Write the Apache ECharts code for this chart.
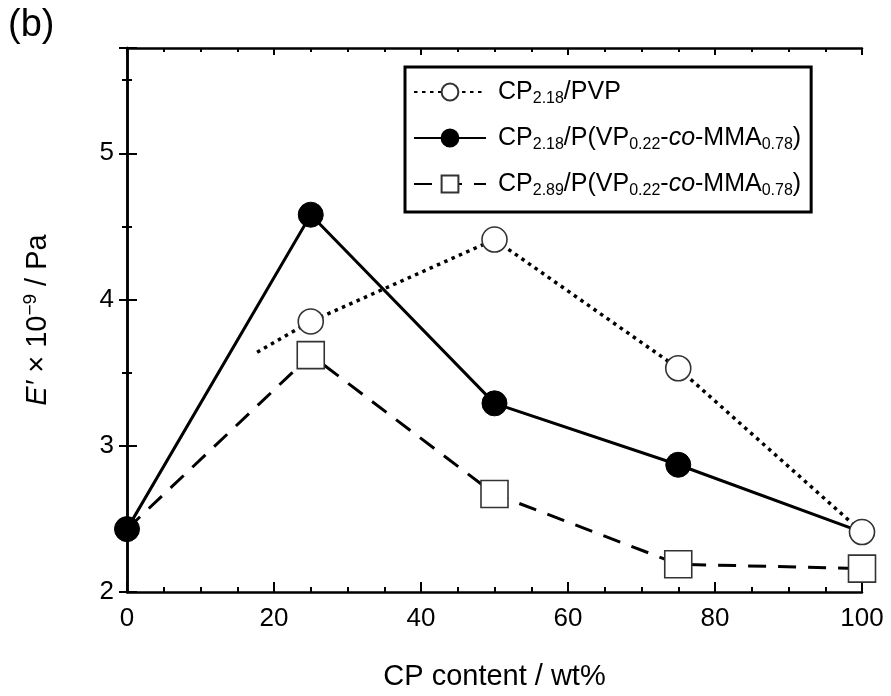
<!DOCTYPE html>
<html>
<head>
<meta charset="utf-8">
<script src="https://cdn.jsdelivr.net/npm/echarts@6/dist/echarts.min.js"></script>
<style>
html,body{margin:0;padding:0;background:#fff;}
#chart{width:891px;height:696px;}
</style>
</head>
<body>
<div id="chart"></div>
<script>
// ---- data ----
const seriesNames = ['CP2.18/PVP', 'CP2.18/P(VP0.22-co-MMA0.78)', 'CP2.89/P(VP0.22-co-MMA0.78)'];
const legendLabels = [
  'CP{s|2.18}/PVP',
  'CP{s|2.18}/P(VP{s|0.22}-{i|co}-MMA{s|0.78})',
  'CP{s|2.89}/P(VP{s|0.22}-{i|co}-MMA{s|0.78})'
];
const xPVP = [17.7, 25, 50, 75, 100];
const yPVP = [3.64, 3.85, 4.41, 3.53, 2.41];
const xCo218 = [0, 25, 50, 75, 100];
const yCo218 = [2.43, 4.58, 3.29, 2.87, 2.41];
const xCo289 = [0, 25, 50, 75, 100];
const yCo289 = [2.43, 3.62, 2.67, 2.19, 2.16];
const xTicks = [0, 20, 40, 60, 80, 100];
const yTicks = [2, 3, 4, 5];

const FONT = 'Liberation Sans, Arial, sans-serif';

function pts(xs, ys, hideFirst) {
  return xs.map((x, i) => (hideFirst && i === 0) ? { value: [x, ys[i]], symbol: 'none' } : [x, ys[i]]);
}

const chart = echarts.init(document.getElementById('chart'), null, { renderer: 'canvas' });

const axisLine = { show: true, lineStyle: { color: '#000', width: 2.5 } };

const option = {
  animation: false,
  backgroundColor: '#fff',
  graphic: [{
    type: 'text', left: 8, top: 7,
    style: { text: '(b)', font: '38px ' + FONT, fill: '#000' }
  }],
  grid: { left: 127, right: 29, top: 48, bottom: 103, containLabel: false },
  legend: {
    orient: 'vertical',
    left: 405, top: 67,
    data: seriesNames,
    itemWidth: 72, itemHeight: 21, itemGap: 16,
    padding: [10, 10, 13, 8],
    borderColor: '#000', borderWidth: 3,
    backgroundColor: '#fff',
    selectedMode: false,
    formatter: function (name) { return legendLabels[seriesNames.indexOf(name)]; },
    textStyle: {
      fontFamily: FONT, fontSize: 25, color: '#000', lineHeight: 30,
      padding: [0, 0, 0, 7],
      rich: {
        s: { fontFamily: FONT, fontSize: 16, color: '#000', verticalAlign: 'bottom', lineHeight: 14 },
        i: { fontFamily: FONT, fontSize: 25, color: '#000', fontStyle: 'italic', lineHeight: 30 }
      }
    }
  },
  xAxis: [{
    type: 'value', position: 'bottom', min: 0, max: 100, interval: 20,
    axisLine: axisLine,
    axisTick: { show: true, inside: true, length: 10, lineStyle: { color: '#000', width: 2 } },
    minorTick: { show: true, splitNumber: 4, length: 5, lineStyle: { color: '#000', width: 2 } },
    splitLine: { show: false },
    axisLabel: { fontFamily: FONT, fontSize: 26, color: '#000', margin: 14,
      formatter: v => xTicks.includes(v) ? String(v) : '' },
    name: 'CP content / wt%', nameLocation: 'middle', nameGap: 70,
    nameTextStyle: { fontFamily: FONT, fontSize: 29, color: '#000' }
  }, {
    type: 'value', position: 'top', min: 0, max: 100, interval: 20,
    axisLine: axisLine,
    axisTick: { show: true, inside: true, length: 7, lineStyle: { color: '#000', width: 2 } },
    minorTick: { show: true, splitNumber: 4, length: 4, lineStyle: { color: '#000', width: 2 } },
    splitLine: { show: false },
    axisLabel: { show: false }
  }],
  yAxis: [{
    type: 'value', position: 'left', min: 2, max: 5.72, interval: 1,
    axisLine: axisLine,
    axisTick: { show: true, inside: true, length: 10, lineStyle: { color: '#000', width: 2 } },
    minorTick: { show: true, splitNumber: 2, length: 5, lineStyle: { color: '#000', width: 2 } },
    splitLine: { show: false },
    axisLabel: { fontFamily: FONT, fontSize: 26, color: '#000', margin: 13,
      formatter: v => yTicks.includes(v) ? String(v) : '' },
    name: '{i|E′} × 10{sup|−9} / Pa', nameLocation: 'middle', nameGap: 72, nameRotate: 90,
    nameTextStyle: {
      fontFamily: FONT, fontSize: 29, color: '#000', lineHeight: 34,
      rich: {
        i: { fontFamily: FONT, fontSize: 29, color: '#000', fontStyle: 'italic', lineHeight: 34 },
        sup: { fontFamily: FONT, fontSize: 19, color: '#000', verticalAlign: 'top', lineHeight: 19 }
      }
    }
  }, {
    type: 'value', position: 'right', min: 2, max: 5.72, interval: 1,
    axisLine: axisLine,
    axisTick: { show: true, inside: true, length: 8, lineStyle: { color: '#000', width: 2 } },
    minorTick: { show: true, splitNumber: 2, length: 5, lineStyle: { color: '#000', width: 2 } },
    splitLine: { show: false },
    axisLabel: { show: false }
  }],
  series: [{
    name: seriesNames[1], type: 'line', xAxisIndex: 0, yAxisIndex: 0, z: 2,
    data: pts(xCo218, yCo218, false),
    symbol: 'circle', symbolSize: 25,
    itemStyle: { color: '#000', borderColor: '#000', borderWidth: 1 },
    lineStyle: { color: '#000', width: 3, type: 'solid' }
  }, {
    name: seriesNames[2], type: 'line', xAxisIndex: 0, yAxisIndex: 0, z: 3,
    data: pts(xCo289, yCo289, true),
    symbol: 'rect', symbolSize: 27,
    itemStyle: { color: '#fff', borderColor: '#333', borderWidth: 1.6 },
    lineStyle: { color: '#000', width: 3, type: [18, 12] }
  }, {
    name: seriesNames[0], type: 'line', xAxisIndex: 0, yAxisIndex: 0, z: 4,
    data: pts(xPVP, yPVP, true),
    symbol: 'circle', symbolSize: 25,
    itemStyle: { color: '#fff', borderColor: '#333', borderWidth: 1.6 },
    lineStyle: { color: '#000', width: 3.5, type: [3.5, 4.5] }
  }]
};
chart.setOption(option);
</script>
</body>
</html>
